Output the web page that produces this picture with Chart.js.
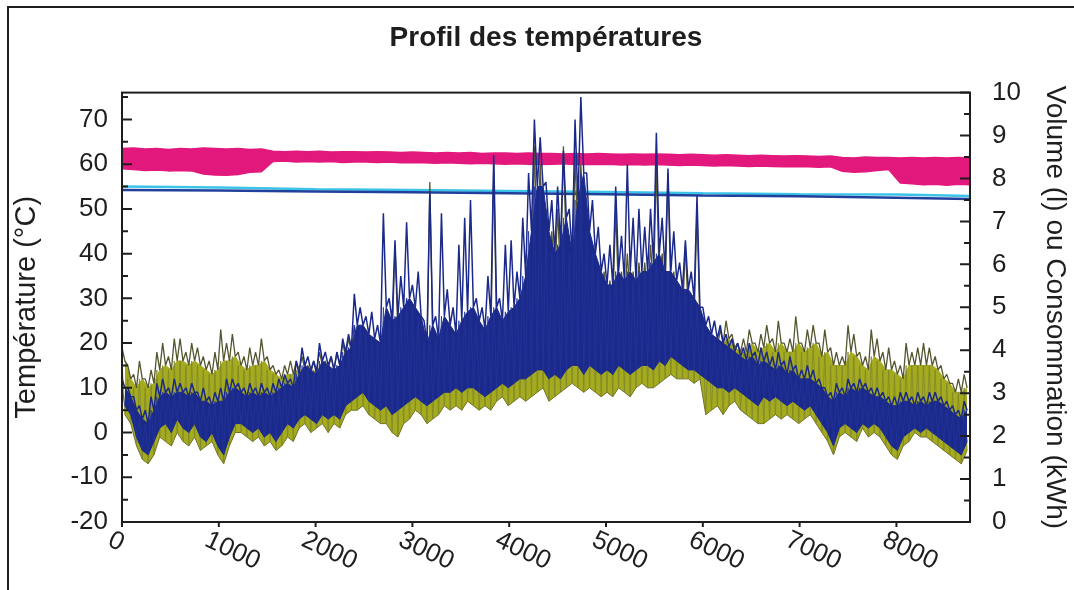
<!DOCTYPE html>
<html lang="fr">
<head>
<meta charset="utf-8">
<title>Profil des températures</title>
<script src="https://cdn.jsdelivr.net/npm/chart.js@4.4.1/dist/chart.umd.min.js"></script>
<style>
  html, body { margin: 0; padding: 0; background: #fff; overflow: hidden; }
  #wrap { position: relative; width: 1074px; height: 590px; }
  #frame { position: absolute; left: 7px; top: 6px; width: 1100px; height: 620px; border: 2px solid #1e1e1e; pointer-events: none; }
</style>
</head>
<body>
<div id="wrap">
  <canvas id="chartTemp"></canvas>
  <div id="frame"></div>
</div>
<script>
// hourly profiles, read per 60 h bin: spike top, solid body top, bottom
const BIN = 60;
const oliveHigh = [
  19, 15, 13, 16, 12, 14, 18, 20, 17, 21,
  21, 18, 20, 19, 17, 16, 18, 23, 20, 22,
  18, 17, 19, 18, 21, 17, 15, 14, 15, 16,
  16, 17, 15, 16, 18, 16, 17, 18, 20, 21,
  24, 23, 22, 20, 18, 21, 25, 42, 24, 30,
  22, 20, 18, 56, 20, 22, 24, 21, 22, 24,
  24, 22, 21, 22, 60, 22, 23, 24, 26, 30,
  40, 64, 60, 50, 45, 50, 64, 44, 62, 60,
  45, 40, 38, 36, 34, 50, 36, 40, 36, 38,
  38, 42, 60, 40, 58, 36, 30, 42, 30, 50,
  24, 22, 21, 23, 25, 22, 20, 21, 23, 20,
  22, 24, 21, 25, 20, 21, 26, 20, 23, 24,
  20, 23, 19, 18, 17, 24, 22, 18, 17, 23,
  21, 18, 19, 16, 15, 20, 18, 19, 20, 19,
  17, 15, 13, 11, 12, 13
];
const oliveBody = [
  16, 12, 10, 12, 10, 11, 14, 15, 14, 16,
  16, 15, 16, 15, 14, 13, 14, 16, 16, 17,
  15, 14, 15, 15, 16, 14, 13, 12, 13, 13,
  14, 14, 13, 14, 15, 14, 14, 15, 17, 18,
  20, 20, 19, 18, 16, 18, 20, 22, 20, 22,
  20, 18, 16, 20, 18, 19, 20, 19, 20, 21,
  21, 20, 19, 20, 22, 20, 21, 22, 23, 25,
  30, 40, 40, 35, 33, 35, 40, 34, 42, 45,
  35, 32, 30, 28, 28, 30, 28, 30, 28, 30,
  30, 32, 34, 30, 30, 28, 26, 26, 25, 24,
  21, 20, 19, 20, 21, 19, 18, 18, 20, 18,
  19, 20, 18, 20, 18, 18, 20, 18, 19, 20,
  17, 18, 15, 15, 15, 18, 17, 15, 14, 17,
  16, 14, 14, 13, 12, 15, 15, 15, 15, 15,
  14, 12, 11, 9, 9, 10
];
const oliveLow = [
  4, 2, -3, -6, -7, -5, -1, -2, -3, 0,
  -2, -3, -1, -4, -3, -2, -5, -7, -3, 0,
  0, -1, -2, -1, -3, -2, -4, -3, -1, -2,
  1, 2, 0, 1, 2, 0, 2, 1, 4, 5,
  5, 6, 4, 3, 2, 2, 0, -1, 2, 3,
  5, 4, 2, 3, 4, 6, 5, 6, 5, 7,
  6, 5, 6, 5, 7, 8, 6, 7, 8, 7,
  8, 9, 10, 7, 8, 9, 10, 11, 10, 9,
  10, 9, 8, 9, 8, 10, 9, 8, 10, 11,
  10, 10, 11, 12, 13, 12, 12, 12, 11, 12,
  4, 5, 6, 4, 6, 7, 5, 4, 3, 2,
  2, 3, 4, 3, 4, 3, 2, 3, 4, 2,
  0, -2, -5, -1, 0, -1, -2, 1, -1, 0,
  -1, -3, -5, -6, -3, -2, 0, -1, -1, -2,
  -3, -4, -5, -6, -7, -4
];
const navyHigh = [
  12, 10, 8, 6, 5, 8, 11, 12, 10, 12,
  11, 10, 11, 9, 10, 8, 9, 10, 12, 12,
  11, 10, 11, 10, 11, 10, 11, 12, 13, 12,
  16, 19, 17, 16, 20, 18, 17, 18, 21, 22,
  31, 28, 26, 27, 24, 49, 30, 43, 35, 47,
  33, 36, 25, 54, 26, 49, 32, 28, 42, 48,
  52, 30, 28, 35, 62, 30, 42, 43, 36, 48,
  58, 70, 66, 56, 52, 55, 63, 50, 70, 75,
  58, 52, 46, 40, 42, 55, 44, 60, 48, 50,
  46, 50, 67, 48, 59, 45, 38, 43, 36, 53,
  28, 26, 25, 24, 22, 21, 20, 19, 20, 18,
  19, 18, 17, 18, 16, 17, 15, 14, 15, 14,
  12, 10, 9, 11, 10, 12, 11, 12, 11, 10,
  10, 9, 8, 8, 9, 9, 8, 9, 8, 9,
  9, 8, 7, 6, 5, 7
];
const navyBody = [
  10, 8, 5, 3, 2, 5, 8, 9, 8, 9,
  9, 8, 9, 7, 7, 6, 7, 7, 9, 10,
  9, 8, 9, 8, 9, 8, 9, 10, 11, 10,
  13, 15, 14, 13, 16, 15, 14, 15, 18, 19,
  24, 24, 22, 21, 20, 28, 25, 26, 28, 30,
  28, 26, 20, 24, 21, 26, 24, 22, 25, 27,
  28, 25, 23, 26, 28, 25, 27, 28, 30, 35,
  45, 55, 55, 45, 40, 42, 48, 40, 52, 58,
  45, 40, 36, 33, 33, 36, 34, 36, 34, 36,
  36, 38, 40, 36, 36, 34, 32, 32, 30, 28,
  24, 22, 21, 20, 19, 18, 17, 16, 17, 15,
  16, 15, 14, 15, 13, 14, 12, 12, 12, 11,
  10, 8, 7, 9, 8, 10, 9, 10, 9, 8,
  8, 7, 6, 6, 7, 7, 6, 7, 6, 7,
  7, 6, 5, 4, 3, 5
];
const navyLow = [
  6, 4, -1, -4, -5, -2, 1, 2, 0, 3,
  1, 0, 2, -1, -2, 0, -3, -5, -1, 2,
  2, 1, 0, 1, -1, 0, -2, 0, 2, 1,
  3, 4, 3, 2, 4, 3, 4, 3, 6, 7,
  8, 9, 7, 6, 5, 6, 4, 5, 6, 7,
  8, 7, 6, 7, 8, 9, 9, 10, 9, 10,
  10, 9, 8, 9, 10, 11, 10, 11, 12, 12,
  13, 14, 14, 12, 13, 12, 14, 15, 15, 13,
  15, 14, 13, 14, 13, 15, 14, 13, 14, 15,
  15, 14, 16, 15, 17, 16, 15, 14, 14, 13,
  12, 11, 10, 10, 9, 10, 9, 8, 7, 6,
  8, 7, 8, 7, 6, 7, 6, 5, 6, 4,
  2, 0, -3, 1, 2, 1, 0, 2, 1, 2,
  1, -1, -3, -4, -1, 0, 1, 0, 1, 0,
  -1, -2, -3, -4, -5, -2
];

// storage temperature band, every 120 h
const MAG_STEP = 120;
const magTop = [
  63.5, 63.6, 63.4, 63.5, 63.3, 63.5, 63.4, 63.6, 63.5, 63.4, 63.5, 63.3, 63.4,
  62.9, 62.8, 62.9, 62.8, 62.9, 62.7, 62.8, 62.8, 62.7, 62.8, 62.7, 62.6, 62.7,
  62.6, 62.5, 62.6, 62.5, 62.6, 62.4, 62.5, 62.5, 62.4, 62.5, 62.4, 62.4,
  62.3, 62.4, 62.3, 62.4, 62.3, 62.2, 62.3, 62.2, 62.3, 62.2, 62.1, 62.2,
  62.1, 62.0, 62.1, 62.0, 61.9, 62.0, 61.9, 61.8, 61.9, 61.8, 61.7, 61.8,
  61.5, 61.4, 61.6, 61.5, 61.5, 61.4, 61.5, 61.4, 61.5, 61.4, 61.5, 61.4
];
const magBottom = [
  59.0, 58.8, 58.6, 58.7, 58.5, 58.6, 58.5, 57.8, 57.6, 57.5, 57.7, 58.2, 58.3,
  60.6, 60.7, 60.5, 60.6, 60.5, 60.6, 60.4, 60.5, 60.5, 60.4, 60.5, 60.3, 60.4,
  60.3, 60.2, 60.3, 60.2, 60.1, 60.2, 60.1, 60.0, 60.1, 60.0, 59.9, 60.0,
  60.1, 59.9, 60.0, 59.9, 60.0, 59.8, 59.9, 59.8, 59.9, 59.8, 59.7, 59.8,
  59.7, 59.6, 59.7, 59.6, 59.5, 59.6, 59.5, 59.4, 59.5, 59.4, 59.3, 59.4,
  58.4, 58.2, 58.3, 58.6, 58.8, 55.8, 55.6, 55.4, 55.5, 55.3, 55.5, 55.4
];

// near-flat lines
const flatHours = [0, 1000, 2000, 3000, 4000, 5000, 6000, 7000, 8000, 8760];
const cyanLine = [55.0, 54.8, 54.4, 54.2, 54.0, 53.8, 53.5, 53.3, 53.2, 52.9];
const blueLine = [54.2, 54.1, 53.9, 53.7, 53.5, 53.3, 53.0, 52.8, 52.5, 52.2];

const tempTicks = [-20, -10, 0, 10, 20, 30, 40, 50, 60, 70];
const xTickValues = [0, 1000, 2000, 3000, 4000, 5000, 6000, 7000, 8000];

// spike tops alternate with the next series (body or bottom) half a bin later
function zigzag(tops, bottoms) {
  const pts = [];
  tops.forEach((t, i) => {
    pts.push({ x: i * BIN, y: t });
    pts.push({ x: i * BIN + BIN / 2, y: bottoms[i] });
  });
  return pts;
}
const binned = vals => vals.map((v, i) => ({ x: i * BIN + BIN / 2, y: v }));
const stepped = (vals, step) => vals.map((v, i) => ({ x: Math.min(i * step, 8760), y: v }));
const paired = (xs, ys) => xs.map((x, i) => ({ x, y: ys[i] }));

const FONT = '"Liberation Sans", Arial, sans-serif';
const INK = '#1e1e1e';
const OLIVE = '#a4ab1f';
const NAVY = '#1b2a8a';

const axisDecor = {
  id: 'axisDecor',
  afterDraw(chart) {
    const { ctx, chartArea: a, scales } = chart;
    ctx.save();
    ctx.strokeStyle = INK;
    ctx.lineWidth = 2;
    ctx.beginPath();
    for (let v = -20; v <= 75; v += 5) {
      const y = scales.y.getPixelForValue(v);
      ctx.moveTo(a.left, y);
      ctx.lineTo(a.left + (v % 10 === 0 ? 10 : 6), y);
    }
    for (let v = 0; v <= 10; v += 0.5) {
      const y = scales.y1.getPixelForValue(v);
      ctx.moveTo(a.right, y);
      ctx.lineTo(a.right - (Number.isInteger(v) ? 10 : 6), y);
    }
    xTickValues.forEach(v => {
      const x = scales.x.getPixelForValue(v);
      ctx.moveTo(x, a.bottom);
      ctx.lineTo(x, a.bottom + 5);
    });
    ctx.stroke();
    ctx.strokeRect(a.left, a.top, a.right - a.left, a.bottom - a.top);

    ctx.fillStyle = INK;
    ctx.font = '26px ' + FONT;
    ctx.textAlign = 'left';
    ctx.textBaseline = 'top';
    xTickValues.forEach(v => {
      const x = scales.x.getPixelForValue(v);
      ctx.save();
      ctx.translate(x - 7, a.bottom + 5);
      ctx.rotate(25 * Math.PI / 180);
      ctx.fillText(String(v), 0, 0);
      ctx.restore();
    });
    ctx.restore();
  }
};

const line = (data, color, width, order, extra) => Object.assign({
  data, borderColor: color, backgroundColor: color, borderWidth: width,
  pointRadius: 0, tension: 0, fill: false, order, borderJoinStyle: 'bevel'
}, extra || {});

new Chart(document.getElementById('chartTemp'), {
  type: 'line',
  data: {
    datasets: [
      line(stepped(magTop, MAG_STEP), '#e3187c', 1.5, 12, { fill: '+1' }),
      line(stepped(magBottom, MAG_STEP), '#e3187c', 1.5, 13),
      line(paired(flatHours, cyanLine), '#3cc3e8', 2.5, 11),
      line(paired(flatHours, blueLine), '#20409c', 2.5, 10),
      // olive series: solid body, hatching, spikes
      line(binned(oliveBody), OLIVE, 1, 9, { fill: '+1' }),
      line(binned(oliveLow), '#6f7228', 1, 8),
      line(zigzag(oliveBody, oliveLow), '#80862a', 0.8, 7),
      line(zigzag(oliveHigh, oliveBody), '#55552f', 1.3, 6),
      // navy series
      line(binned(navyBody), NAVY, 1, 5, { fill: '+1' }),
      line(binned(navyLow), NAVY, 1, 4),
      line(zigzag(navyBody, navyLow), '#22339a', 0.8, 3),
      line(zigzag(navyHigh, navyBody), NAVY, 1.5, 2)
    ]
  },
  options: {
    responsive: true,
    maintainAspectRatio: false,
    animation: false,
    layout: { padding: 0 },
    plugins: {
      legend: { display: false },
      tooltip: { enabled: false },
      title: {
        display: true,
        text: 'Profil des températures',
        fullSize: false,
        color: INK,
        font: { family: FONT, size: 28, weight: 'bold' },
        padding: { top: 21, bottom: 38 }
      }
    },
    scales: {
      x: {
        type: 'linear', min: 0, max: 8760,
        grid: { display: false }, border: { display: false },
        ticks: { display: false, stepSize: 1000 },
        afterFit: s => { s.height = 68; }
      },
      y: {
        position: 'left', min: -20, max: 76,
        grid: { display: false, drawTicks: false }, border: { display: false },
        ticks: { padding: 14, color: INK, font: { family: FONT, size: 26 } },
        afterBuildTicks: s => { s.ticks = tempTicks.map(v => ({ value: v })); },
        title: { display: true, text: 'Température (°C)', color: INK, font: { family: FONT, size: 29 }, padding: { top: 10, bottom: 0 } },
        afterFit: s => { s.width = 122; }
      },
      y1: {
        position: 'right', min: 0, max: 10,
        grid: { display: false, drawTicks: false }, border: { display: false },
        ticks: { stepSize: 1, padding: 22, color: INK, font: { family: FONT, size: 26 } },
        title: { display: true, text: 'Volume (l) ou Consommation (kWh)', color: INK, font: { family: FONT, size: 28 }, padding: { top: 2, bottom: 0 } },
        afterFit: s => { s.width = 104; }
      }
    }
  },
  plugins: [axisDecor]
});
</script>
</body>
</html>
